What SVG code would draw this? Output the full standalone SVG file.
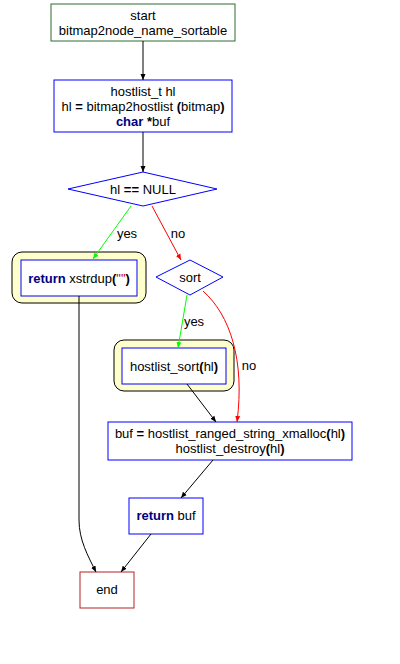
<svg xmlns="http://www.w3.org/2000/svg" width="400" height="664" viewBox="0 0 400 664">
<style>
text{font-family:"Liberation Sans",Arial,sans-serif;font-size:13px;fill:#000;text-anchor:middle}
.b{font-weight:bold}
.k{font-weight:bold;fill:#000080}
.s{fill:#cc0000}
.box{fill:#fff;stroke:#0000ff;stroke-width:1}
.outer{fill:#ffffcc;stroke:#000;stroke-width:1}
.e{fill:none;stroke:#000;stroke-width:1}
.g{fill:none;stroke:#00ff00;stroke-width:1}
.r{fill:none;stroke:#ff0000;stroke-width:1}
</style>
<defs>
<marker id="ak" markerWidth="7" markerHeight="6" refX="6" refY="3" orient="auto" markerUnits="userSpaceOnUse"><path d="M0,0.5 L6,3 L0,5.5 z" fill="#000"/></marker>
<marker id="ag" markerWidth="7" markerHeight="6" refX="6" refY="3" orient="auto" markerUnits="userSpaceOnUse"><path d="M0,0.5 L6,3 L0,5.5 z" fill="#00ff00"/></marker>
<marker id="ar" markerWidth="7" markerHeight="6" refX="6" refY="3" orient="auto" markerUnits="userSpaceOnUse"><path d="M0,0.5 L6,3 L0,5.5 z" fill="#ff0000"/></marker>
</defs>
<rect width="400" height="664" fill="#fff"/>
<g id="start">
<rect x="51" y="4" width="184" height="37" fill="#fff" stroke="#2e6b2e"/>
<text x="143" y="20">start</text>
<text x="143" y="35">bitmap2node_name_sortable</text>
</g>
<g id="decl">
<rect class="box" x="54" y="80" width="178" height="52"/>
<text x="143" y="96">hostlist_t hl</text>
<text x="143" y="111">hl <tspan class="b">=</tspan> bitmap2hostlist <tspan class="b">(</tspan>bitmap<tspan class="b">)</tspan></text>
<text x="143" y="126"><tspan class="k">char</tspan> <tspan class="b">*</tspan>buf</text>
</g>
<g id="cond1">
<polygon points="143,172 217,189 143,206 68,189" fill="#fff" stroke="#0000ff"/>
<text x="143" y="194">hl <tspan class="b">==</tspan> NULL</text>
</g>
<g id="ret1">
<rect class="outer" x="12" y="252" width="134" height="51" rx="10"/>
<rect class="box" x="21" y="260" width="116" height="36"/>
<text x="79" y="283"><tspan class="k">return</tspan> xstrdup<tspan class="b">(</tspan><tspan class="s">""</tspan><tspan class="b">)</tspan></text>
</g>
<g id="sort">
<polygon points="190,260 223,277 190,295 156,277" fill="#fff" stroke="#0000ff"/>
<text x="190" y="282">sort</text>
</g>
<g id="hsort">
<rect class="outer" x="114" y="340" width="120" height="51" rx="10"/>
<rect class="box" x="122" y="348" width="104" height="36"/>
<text x="174" y="371">hostlist_sort<tspan class="b">(</tspan>hl<tspan class="b">)</tspan></text>
</g>
<g id="bufnode">
<rect class="box" x="108" y="422" width="244" height="38"/>
<text x="230" y="438">buf <tspan class="b">=</tspan> hostlist_ranged_string_xmalloc<tspan class="b">(</tspan>hl<tspan class="b">)</tspan></text>
<text x="230" y="453">hostlist_destroy<tspan class="b">(</tspan>hl<tspan class="b">)</tspan></text>
</g>
<g id="ret2">
<rect class="box" x="129" y="498" width="74" height="36"/>
<text x="166" y="520"><tspan class="k">return</tspan> buf</text>
</g>
<g id="end">
<rect x="80" y="572" width="54" height="36" fill="#fff" stroke="#b22222"/>
<text x="107" y="594">end</text>
</g>
<g id="edges">
<path class="e" d="M143,41 L143,80" marker-end="url(#ak)"/>
<path class="e" d="M143,132 L143,172" marker-end="url(#ak)"/>
<path class="g" d="M131,206 L93,259" marker-end="url(#ag)"/>
<text x="127" y="238">yes</text>
<path class="r" d="M152,206 L181,260" marker-end="url(#ar)"/>
<text x="178" y="238">no</text>
<path class="g" d="M187,295 L178,348" marker-end="url(#ag)"/>
<text x="194" y="326">yes</text>
<path class="r" d="M203,291 C230,315 245,360 237,422" marker-end="url(#ar)"/>
<text x="249" y="370">no</text>
<path class="e" d="M187,384 L216,422" marker-end="url(#ak)"/>
<path class="e" d="M213,460 L181,498" marker-end="url(#ak)"/>
<path class="e" d="M151,534 L121,572" marker-end="url(#ak)"/>
<path class="e" d="M79,296 L79,520 C79,540 88,556 96,572" marker-end="url(#ak)"/>
</g>
</svg>
